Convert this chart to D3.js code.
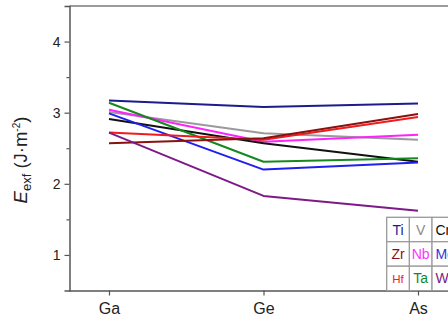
<!DOCTYPE html>
<html>
<head>
<meta charset="utf-8">
<script src="https://cdn.jsdelivr.net/npm/d3@7/dist/d3.min.js"></script>
<style>
  html, body { margin: 0; padding: 0; background: #fff; overflow: hidden; }
  svg { display: block; font-family: "Liberation Sans", Arial, sans-serif; }
</style>
</head>
<body>
<svg id="chart" width="448" height="322"></svg>
<script>
// Exfoliation energy per dopant across the three substrates
const categories = ["Ga", "Ge", "As"];
const elements = ["Ti", "V", "Cr", "Zr", "Nb", "Mo", "Hf", "Ta", "W"];
const Ti = [3.17, 3.08, 3.13];
const V  = [3.01, 2.71, 2.62];
const Cr = [2.91, 2.57, 2.31];
const Zr = [2.57, 2.64, 2.98];
const Nb = [3.04, 2.59, 2.69];
const Mo = [2.99, 2.20, 2.30];
const Hf = [2.72, 2.62, 2.94];
const Ta = [3.14, 2.31, 2.36];
const W  = [2.72, 1.83, 1.62];
const yTicks = [1, 2, 3, 4];

const seriesValues = { Ti, V, Cr, Zr, Nb, Mo, Hf, Ta, W };
const colors = {
  Ti: "#1c1c8f", V: "#9a9a9a", Cr: "#111111",
  Zr: "#8b1010", Nb: "#ff22ff", Mo: "#1f1fee",
  Hf: "#ee1c1c", Ta: "#17871f", W: "#7d1a86"
};
const legendText = {
  Ti: "#1c1c8f", V: "#8a8a8a", Cr: "#111111",
  Zr: "#8b1010", Nb: "#ff33ff", Mo: "#3333dd",
  Hf: "#ee2222", Ta: "#17871f", W: "#7d1a86"
};

const svg = d3.select("#chart");
const plotLeft = 69.5, plotTop = 6, plotBottom = 290.5, plotRight = 470;

const x = d3.scalePoint().domain(categories).range([109, 418]);
const y = d3.scaleLinear().domain([0.5, 4.5]).range([plotBottom, plotTop]);

// frame: top edge
svg.append("line")
  .attr("x1", plotLeft).attr("x2", plotRight).attr("y1", plotTop).attr("y2", plotTop)
  .attr("stroke", "#7a7a7a").attr("stroke-width", 1.5);

// series lines
const line = d3.line().x((d, i) => x(categories[i])).y(d => y(d));
const drawOrder = ["V", "Nb", "Cr", "Mo", "Ta", "Hf", "Zr", "W", "Ti"];
drawOrder.forEach(k => {
  svg.append("path")
    .datum(seriesValues[k])
    .attr("d", line)
    .attr("fill", "none")
    .attr("stroke", colors[k])
    .attr("stroke-width", 2)
    .attr("stroke-linejoin", "round");
});

// y axis
const yAxis = svg.append("g").attr("transform", `translate(${plotLeft},0)`)
  .call(d3.axisLeft(y).tickValues(yTicks).tickFormat(d3.format("d")).tickSize(5).tickPadding(4));
svg.append("g").attr("transform", `translate(${plotLeft},0)`)
  .call(d3.axisLeft(y).tickValues([1.5, 2.5, 3.5]).tickFormat("").tickSize(3))
  .call(g => g.select(".domain").remove());

// x axis
const xAxis = svg.append("g").attr("transform", `translate(0,${plotBottom})`)
  .call(d3.axisBottom(x).tickSize(5).tickPadding(7).tickSizeOuter(0));
xAxis.select(".domain").attr("d", `M${plotLeft},0.5H${plotRight}`);

svg.selectAll(".domain").attr("stroke", "#555").attr("stroke-width", 1.5);
svg.selectAll(".tick line").attr("stroke", "#555").attr("stroke-width", 1.2);
yAxis.selectAll(".tick text").attr("font-size", 14).attr("fill", "#222")
  .attr("font-family", "Liberation Sans, Arial, sans-serif");
xAxis.selectAll(".tick text").attr("font-size", 16).attr("fill", "#222")
  .attr("font-family", "Liberation Sans, Arial, sans-serif");

// y axis title
const title = svg.append("text")
  .attr("transform", "translate(26.5,160) rotate(-90)")
  .attr("text-anchor", "middle")
  .attr("font-size", 18.5).attr("fill", "#222");
title.append("tspan").attr("font-style", "italic").text("E");
title.append("tspan").attr("font-size", 13).attr("dy", 4).text("exf");
title.append("tspan").attr("dy", -4).text(" (J·m");
title.append("tspan").attr("font-size", 10).attr("dy", -7).text("-2");
title.append("tspan").attr("dy", 7).text(")");

// legend grid
const cellW = 22.6, cellH = 24.4, lx = 386.7, ly = 217.3;
const legend = svg.append("g");
legend.append("rect").attr("x", lx).attr("y", ly)
  .attr("width", cellW * 3).attr("height", cellH * 3)
  .attr("fill", "#fff").attr("stroke", "#9a9a9a").attr("stroke-width", 1);
elements.forEach((k, i) => {
  const c = i % 3, r = Math.floor(i / 3);
  legend.append("rect")
    .attr("x", lx + c * cellW).attr("y", ly + r * cellH)
    .attr("width", cellW).attr("height", cellH)
    .attr("fill", "none").attr("stroke", "#9a9a9a").attr("stroke-width", 1);
  const lastCol = c === 2;
  legend.append("text")
    .attr("x", lastCol ? lx + c * cellW + 3.5 : lx + c * cellW + cellW / 2)
    .attr("y", ly + r * cellH + cellH / 2 + 5)
    .attr("text-anchor", lastCol ? "start" : "middle")
    .attr("font-size", k === "Hf" ? 11.5 : 14)
    .attr("fill", legendText[k])
    .text(k);
});
</script>
</body>
</html>
